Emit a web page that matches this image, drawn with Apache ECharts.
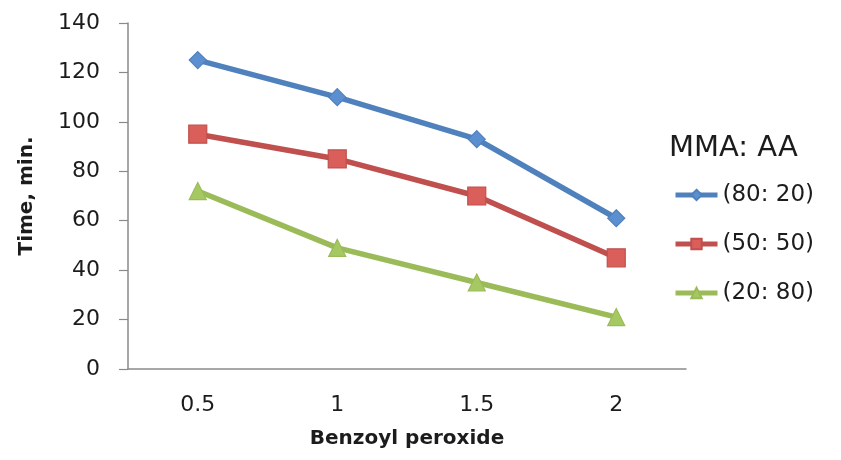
<!DOCTYPE html>
<html>
<head>
<meta charset="utf-8">
<script src="https://cdn.jsdelivr.net/npm/echarts@6/dist/echarts.min.js"></script>
<style>
  html, body { margin: 0; padding: 0; background: #ffffff; }
  #chart { width: 841px; height: 460px; }
</style>
</head>
<body>
<div id="chart"></div>
<script>
// Benzoyl peroxide amount (x categories)
const categories = ['0.5', '1', '1.5', '2'];

// Time in minutes for each MMA:AA ratio
const seriesNames = ['(80: 20)', '(50: 50)', '(20: 80)'];
const mma80aa20 = [125, 110, 93, 61];
const mma50aa50 = [95, 85, 70, 45];
const mma20aa80 = [72, 49, 35, 21];

const yTicks = { min: 0, max: 140, interval: 20 };

const lineColors = ['#4F81BD', '#C0504D', '#9BBB59'];
const fillColors = ['#5B8FD0', '#DA5E5A', '#A6C862'];
const symbols = ['diamond', 'rect', 'triangle'];
const symbolSizes = [17, 18, 17];
const values = [mma80aa20, mma50aa50, mma20aa80];

const font = '"DejaVu Sans", Lato, sans-serif';
const textColor = '#1c1c1c';

const chart = echarts.init(document.getElementById('chart'), null, { renderer: 'canvas' });

chart.setOption({
  backgroundColor: '#ffffff',
  animation: false,
  title: {
    text: 'MMA: AA',
    left: 664,
    top: 129,
    textStyle: { fontFamily: font, fontSize: 29, fontWeight: 'normal', color: textColor }
  },
  legend: {
    orient: 'vertical',
    left: 668,
    top: 178,
    itemWidth: 42,
    itemHeight: 13,
    itemGap: 25,
    data: seriesNames,
    lineStyle: { width: 5 },
    textStyle: { fontFamily: font, fontSize: 23, lineHeight: 24, color: textColor }
  },
  grid: { left: 128, right: 155, top: 23, bottom: 91, containLabel: false },
  xAxis: {
    type: 'category',
    data: categories,
    boundaryGap: true,
    name: 'Benzoyl peroxide',
    nameLocation: 'middle',
    nameGap: 60,
    nameTextStyle: { fontFamily: font, fontSize: 20, fontWeight: 'bold', color: textColor },
    axisLine: { lineStyle: { color: '#8a8a8a', width: 1.5 } },
    axisTick: { show: false },
    axisLabel: { fontFamily: font, fontSize: 22, color: textColor, margin: 25 }
  },
  yAxis: {
    type: 'value',
    min: yTicks.min,
    max: yTicks.max,
    interval: yTicks.interval,
    name: 'Time, min.',
    nameLocation: 'middle',
    nameGap: 91,
    nameRotate: 90,
    nameTextStyle: { fontFamily: font, fontSize: 20, fontWeight: 'bold', color: textColor },
    axisLine: { show: true, lineStyle: { color: '#8a8a8a', width: 1.5 } },
    axisTick: { show: true, inside: false, length: 9, lineStyle: { color: '#8a8a8a', width: 1.2 } },
    splitLine: { show: false },
    axisLabel: { fontFamily: font, fontSize: 22, color: textColor, margin: 28 }
  },
  series: seriesNames.map((name, i) => ({
    name: name,
    type: 'line',
    data: values[i],
    symbol: symbols[i],
    symbolSize: symbolSizes[i],
    showAllSymbol: true,
    lineStyle: { color: lineColors[i], width: 5.5 },
    itemStyle: { color: fillColors[i], borderColor: lineColors[i], borderWidth: 1.2 }
  }))
});
</script>
</body>
</html>
